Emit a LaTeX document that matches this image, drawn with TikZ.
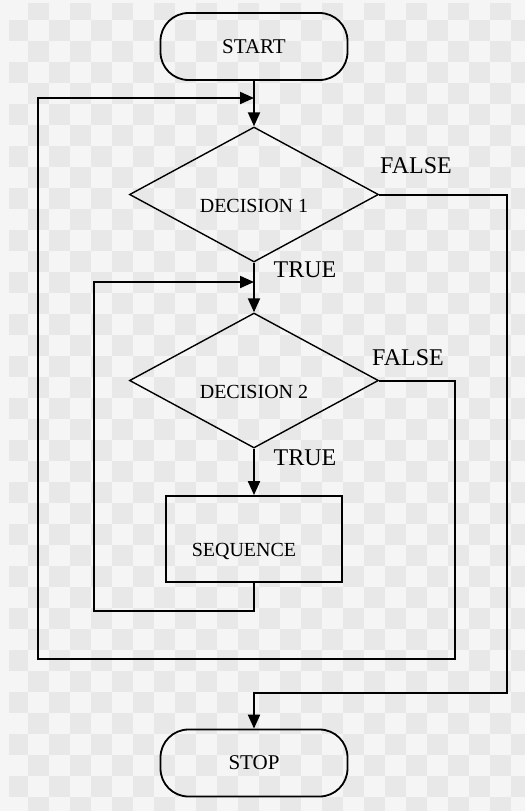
\documentclass[tikz,border=0pt]{standalone}
\usepackage{fontspec}
\setmainfont{Liberation Serif}
\usetikzlibrary{shapes.geometric,arrows.meta}
\definecolor{chklight}{HTML}{F5F5F5}
\definecolor{chkdark}{HTML}{E8E8E8}
\newcommand{\lowertext}[1]{\raisebox{-8.8pt}[0pt][0pt]{#1}}

\tikzset{
	terminal/.style={draw, rectangle, rounded corners=14pt, minimum width=93.5pt, minimum height=33.5pt, line width=0.9pt, font=\fontsize{10.5}{12}\selectfont},
	decision/.style={draw, diamond, minimum width=124.5pt, minimum height=67.5pt, inner sep=0pt, line width=0.7pt, font=\fontsize{10}{12}\selectfont},
	process/.style={draw, rectangle, minimum width=88pt, minimum height=43pt, inner sep=0pt, line width=0.9pt, font=\fontsize{10}{12}\selectfont},
	branch/.style={font=\fontsize{12}{14}\selectfont},
	flow/.style={line width=1pt, -{Triangle[length=7pt,width=6pt]}}
}

\begin{document}
\begin{tikzpicture}[x=0.5pt, y=-0.5pt]
	\useasboundingbox (0,0) rectangle (525,811);
	\fill[chklight] (0,0) rectangle (525,811);
	\begin{scope}
		\clip (9,3) rectangle (525,811);
		\foreach \i in {0,...,24}
			\foreach \j in {0,...,38} {
				\pgfmathtruncatemacro{\odd}{mod(\i+\j,2)}
				\ifnum\odd=1 \fill[chkdark] (7+21*\i,-1+21*\j) rectangle ++(21,21); \fi
			}
	\end{scope}

	\node[terminal](START) at (254,46.5){START};
	\node[decision, below of=START, node distance=74pt](DEC1){\lowertext{DECISION 1}};
	\node[decision, below of=DEC1, node distance=93pt](DEC2){\lowertext{DECISION 2}};
	\node[process, below of=DEC2, node distance=79.25pt](SEQ){\lowertext{\hspace{-10pt}SEQUENCE}};
	\node[terminal, below of=SEQ, node distance=112pt](STOP){STOP};

	\node[branch](F1) at (416,166){FALSE};
	\node[branch](T1) at (305,270){TRUE};
	\node[branch](F2) at (408,358){FALSE};
	\node[branch](T2) at (305,458){TRUE};

	\coordinate (IN1) at (254,98);
	\coordinate (IN2) at (254,282);
	\coordinate (L1a) at (455,659);
	\coordinate (L1b) at (38,659);
	\coordinate (L2) at (94,611);
	\coordinate (X1) at (507,693);

	\draw[flow] (START) -- (DEC1);
	\draw[flow] (DEC1) -- (DEC2);
	\draw[flow] (DEC2) -- (SEQ);

	\draw[flow] (SEQ.south) |- (L2) |- (IN2);
	\draw[flow] (DEC2.east) -| (L1a) -- (L1b) |- (IN1);
	\draw[flow] (DEC1.east) -| (X1) -| (STOP.north);
\end{tikzpicture}
\end{document}
